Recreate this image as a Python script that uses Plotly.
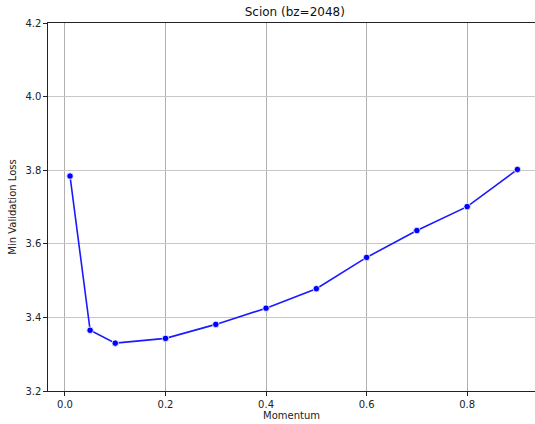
import plotly.graph_objects as go

momentum = [0.01, 0.05, 0.1, 0.2, 0.3, 0.4, 0.5, 0.6, 0.7, 0.8, 0.9]
min_val_loss = [3.784, 3.365, 3.330, 3.343, 3.381, 3.425, 3.478, 3.563, 3.636, 3.701, 3.802]
x_ticks = [0.0, 0.2, 0.4, 0.6, 0.8]
y_ticks = [3.2, 3.4, 3.6, 3.8, 4.0, 4.2]

fig = go.Figure()
fig.add_trace(go.Scatter(
    x=momentum, y=min_val_loss, mode="lines+markers",
    line=dict(color="#1a1aff", width=1.6),
    marker=dict(color="#0000ff", size=6.5, line=dict(color="white", width=0.8)),
    showlegend=False,
))

fig.update_layout(
    width=535, height=424,
    margin=dict(l=48, r=0, t=23, b=33),
    paper_bgcolor="white", plot_bgcolor="white",
    font=dict(family="DejaVu Sans", size=10, color="#222"),
    title=dict(text="Scion (bz=2048)", x=0.551, xanchor="center", y=0.972, yanchor="middle",
               font=dict(size=12, color="#111")),
    xaxis=dict(
        range=[-0.0338, 0.935], tickvals=x_ticks, ticktext=[f"{v:.1f}" for v in x_ticks],
        showgrid=True, gridcolor="#b0b0b0", gridwidth=1,
        showline=True, linecolor="#222", linewidth=1.2, mirror=True,
        ticks="outside", ticklen=3.5, tickcolor="#222", zeroline=False,
        title=dict(text="Momentum", standoff=2, font=dict(size=10)),
    ),
    yaxis=dict(
        range=[3.2, 4.2], tickvals=y_ticks, ticktext=[f"{v:.1f}" for v in y_ticks],
        showgrid=True, gridcolor="#c8c8c8", gridwidth=1.4,
        showline=True, linecolor="#222", linewidth=1.2, mirror=False,
        ticks="outside", ticklen=3.5, tickcolor="#222", zeroline=False,
        title=dict(text="Min Validation Loss", standoff=6, font=dict(size=10)),
    ),
)

fig.write_html("out.html")
